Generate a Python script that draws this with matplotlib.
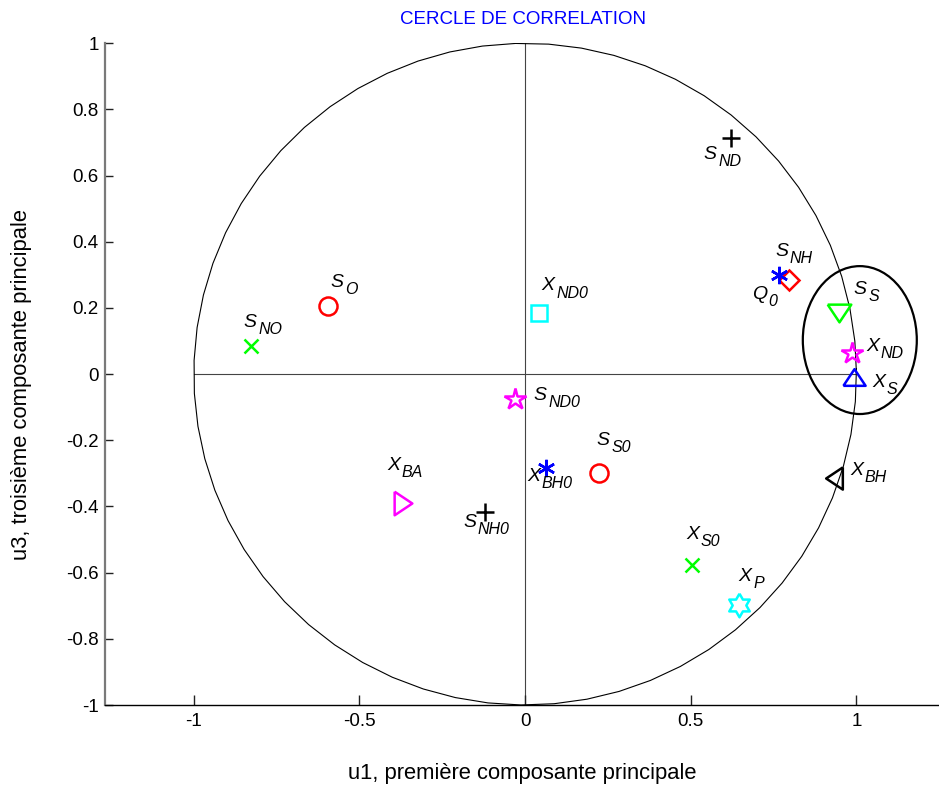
import numpy as np
import matplotlib
matplotlib.use("Agg")
import matplotlib.pyplot as plt
from matplotlib.patches import Ellipse

plt.rcParams['font.family'] = ['Liberation Sans', 'DejaVu Sans']
plt.rcParams['axes.unicode_minus'] = False

# Variables projected on the (u1, u3) plane
main_letter = ['S', 'S', 'Q', 'S', 'X', 'X', 'X', 'S', 'S', 'S',
               'X', 'S', 'S', 'X', 'X', 'X', 'X']
subscript = ['ND', 'NH', '0', 'S', 'ND', 'S', 'ND0', 'O', 'NO', 'ND0',
             'BH0', 'S0', 'NH0', 'BA', 'BH', 'S0', 'P']
u1 = [0.622, 0.795, 0.767, 0.946, 0.986, 0.991, 0.041, -0.594, -0.828, -0.030,
      0.063, 0.222, -0.121, -0.369, 0.931, 0.505, 0.645]
u3 = [0.714, 0.284, 0.300, 0.186, 0.065, -0.010, 0.184, 0.206, 0.085, -0.076,
      -0.284, -0.299, -0.417, -0.390, -0.315, -0.576, -0.698]

# Highlighted group of variables (ellipse centre and axes)
group_center = (1.010, 0.103)
group_size = (0.344, 0.447)

x_ticks = [-1, -0.5, 0, 0.5, 1]
x_tick_labels = ['-1', '-0.5', '0', '0.5', '1']
y_ticks = [-1, -0.8, -0.6, -0.4, -0.2, 0, 0.2, 0.4, 0.6, 0.8, 1]
y_tick_labels = ['-1', '-0.8', '-0.6', '-0.4', '-0.2', '0', '0.2', '0.4', '0.6', '0.8', '1']


def closed(verts):
    return list(verts) + [verts[0]]


# Marker shapes
tri_down = closed([(-1, 0.75), (1, 0.75), (0, -0.75)])
tri_up = closed([(-1, -0.75), (1, -0.75), (0, 0.75)])
tri_right = closed([(-0.75, 1), (-0.75, -1), (0.75, 0)])
tri_left = closed([(0.75, 1), (0.75, -1), (-0.75, 0)])
hexagram = closed([(np.cos(np.pi / 2 + k * np.pi / 6) * (1 if k % 2 == 0 else 1 / np.sqrt(3)),
                    np.sin(np.pi / 2 + k * np.pi / 6) * (1 if k % 2 == 0 else 1 / np.sqrt(3)))
                   for k in range(12)])
asterisk = (6, 2, 0)

R, G, B, M, C, K = '#ff0000', '#00ff00', '#0000ff', '#ff00ff', '#00ffff', '#000000'
styles = [
    ('+', K, 13), ('D', R, 10.5), (asterisk, B, 12.5), (tri_down, G, 17),
    ('*', M, 16), (tri_up, B, 16), ('s', C, 11), ('o', R, 13), ('x', G, 9.5),
    ('*', M, 16), (asterisk, B, 12.5), ('o', R, 13), ('+', K, 13),
    (tri_right, M, 17), (tri_left, K, 16), ('x', G, 9.5), (hexagram, C, 17),
]
# label offsets from the marker, in pixels (left edge / vertical centre of the letter)
label_offsets = [
    (-27.7, -16.7), (-13.3, 29.0), (-27.5, -19.2), (15.0, 23.3), (14.3, 5.8),
    (18.4, -5.0), (3.0, 27.3), (1.7, 23.4), (-7.4, 23.4), (18.3, 4.2),
    (-19.1, -8.3), (-2.0, 32.3), (-22.0, -10.5), (-16.0, 37.6), (16.7, 7.6),
    (-6.3, 30.7), (-0.4, 28.5),
]

W, H, DPI = 939, 787, 100
fig = plt.figure(figsize=(W / DPI, H / DPI), dpi=DPI)
ax = fig.add_axes([105 / W, (H - 705) / H, (W - 105) / W, (705 - 43.3) / H])
ax.set_xlim(-1.268, 1.249)
ax.set_ylim(-1, 1)

for side in ('top', 'right'):
    ax.spines[side].set_visible(False)
ax.spines['left'].set_color('#7a7a7a')
ax.spines['left'].set_linewidth(1.6)
ax.spines['bottom'].set_color('black')
ax.spines['bottom'].set_linewidth(1.0)

ax.set_xticks(x_ticks)
ax.set_xticklabels(x_tick_labels)
ax.set_yticks(y_ticks)
ax.set_yticklabels(y_tick_labels)
ax.tick_params(axis='both', direction='in', labelsize=13.5, colors='#222222',
               labelcolor='black', width=1)
ax.tick_params(axis='x', length=7, pad=6)
ax.tick_params(axis='y', length=6, pad=4.5)

# unit circle and axes through the origin
t = np.arange(0, 2 * np.pi + 0.1, 0.1)
ax.plot(np.cos(t), np.sin(t), color='black', lw=0.8, zorder=2)
ax.plot([-1, 1], [0, 0], color='#444444', lw=0.8, zorder=1)
ax.plot([0, 0], [-1, 1], color='#444444', lw=0.8, zorder=1)

ax.add_patch(Ellipse(group_center, group_size[0], group_size[1], fill=False,
                     edgecolor='black', lw=1.6, zorder=3))

for i in range(len(u1)):
    mk, col, ms = styles[i]
    ax.plot(u1[i], u3[i], linestyle='none', marker=mk, markersize=ms,
            markerfacecolor='none', markeredgecolor=col, markeredgewidth=1.8,
            zorder=4)
    dx, dy = label_offsets[i]
    main = ax.annotate(main_letter[i], xy=(u1[i], u3[i]), xycoords='data',
                       xytext=(dx * 0.72, dy * 0.72), textcoords='offset points',
                       ha='left', va='center', fontsize=14, fontstyle='italic',
                       zorder=5)
    ax.annotate(subscript[i], xy=(1, 0), xycoords=main,
                xytext=(1.2, 1.0), textcoords='offset points',
                ha='left', va='center', fontsize=11.5, fontstyle='italic',
                zorder=5)

fig.text(523 / W, 1 - 20 / H, 'CERCLE DE CORRELATION', color='#0000ff',
         fontsize=13.5, ha='center', va='center')
fig.text(522 / W, 1 - 773 / H, 'u1, première composante principale',
         fontsize=15.8, ha='center', va='center')
fig.text(22 / W, 1 - 385 / H, 'u3, troisième composante principale',
         fontsize=15.8, ha='center', va='center', rotation=90)

fig.savefig('out.png', dpi=DPI)
